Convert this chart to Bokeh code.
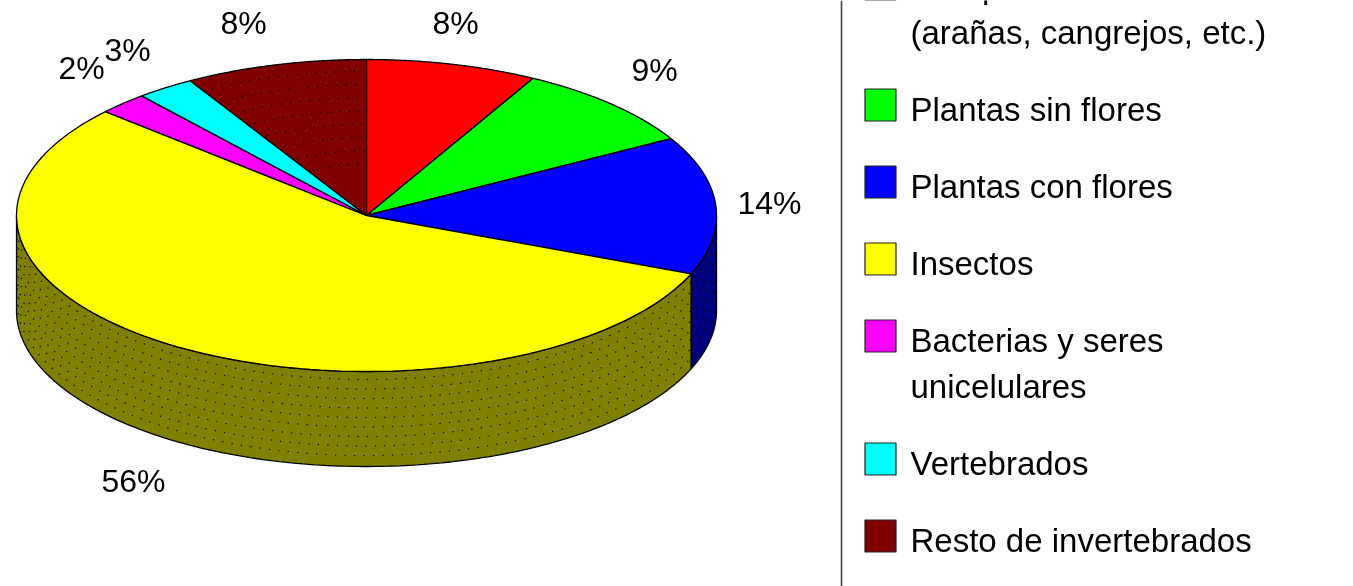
import numpy as np
from bokeh.plotting import figure
from bokeh.models import Range1d
from bokeh.core.properties import value
from bokeh.embed import file_html
from bokeh.resources import INLINE

# ---- data
categories = ["Artrópodos no insectos\n(arañas, cangrejos, etc.)", "Plantas sin flores",
              "Plantas con flores", "Insectos", "Bacterias y seres\nunicelulares",
              "Vertebrados", "Resto de invertebrados"]
values = [7.9, 8.9, 14.3, 55.5, 2.3, 2.7, 8.4]
labels = ["8%", "9%", "14%", "56%", "2%", "3%", "8%"]
colors = ["#ff0000", "#00ff00", "#0000ff", "#ffff00", "#ff00ff", "#00ffff", "#800000"]
side_colors = ["#800000", "#008000", "#000080", "#808000", "#800080", "#008080", "#400000"]

# ---- layout (page pixels, y downwards)
W, H = 1353, 586
CX, CY, RX, RY, DEPTH = 366.0, 215.0, 350.0, 156.0, 95.0
LABEL_X = [455, 654, 769, 133, 81, 127, 243]
LABEL_Y = [22, 69, 202, 480, 67, 49, 22]
SW_X0, SW_X1, TXT_X = 864.5, 895.5, 910
SWATCH_TOPS = [-32.4, 88.5, 165.5, 242.5, 319.5, 442.5, 519.5]
TEXT_Y = [-14, 120 - 11, 197 - 11, 274 - 11, 351 - 11, 474 - 11, 551 - 11]
FONT = "Liberation Sans"

p = figure(width=W, height=H, output_backend="svg", toolbar_location=None,
           x_range=Range1d(0, W), y_range=Range1d(H, 0), min_border=0,
           outline_line_color=None, background_fill_color="white",
           styles={"position": "fixed", "left": "0", "top": "0"})
p.axis.visible = False
p.grid.visible = False


def ex(t):
    return CX + RX * np.sin(t)


def ey(t):
    return CY - RY * np.cos(t)


edges = np.cumsum([0] + values) / float(sum(values)) * 2 * np.pi


def dots(xs, ys):
    p.scatter(xs, ys, marker="circle", size=1.5, fill_color="black", line_color=None)


# side wall (front half only: angle from 90 to 270 degrees)
for i in range(len(values)):
    a, b = max(edges[i], np.pi / 2), min(edges[i + 1], 3 * np.pi / 2)
    if b <= a:
        continue
    t = np.linspace(a, b, 160)
    xs = np.r_[ex(t), ex(t[::-1])]
    ys = np.r_[ey(t), ey(t[::-1]) + DEPTH]
    p.patch(xs, ys, fill_color=side_colors[i], line_color="black", line_width=1.3)
    # stipple
    dx, dy = [], []
    for k, d in enumerate(np.arange(8, DEPTH - 3, 9.5)):
        tt = a + 0.006 + (k % 3) * 0.009
        while tt < b - 0.006:
            local = np.hypot(RX * np.cos(tt), RY * np.sin(tt))
            dx.append(ex(tt))
            dy.append(ey(tt) + d)
            tt += 9.5 / max(local, 40)
    dots(dx, dy)

# top face
for i in range(len(values)):
    t = np.linspace(edges[i], edges[i + 1], 120)
    xs = np.r_[CX, ex(t)]
    ys = np.r_[CY, ey(t)]
    p.patch(xs, ys, fill_color=colors[i], line_color="black", line_width=1.3)

# stipple of the last slice
a, b = edges[-2], edges[-1]
dx, dy = [], []
for k, f in enumerate(np.arange(0.33, 0.98, 0.085)):
    tt = a + 0.02 + (k % 3) * 0.012
    while tt < b - 0.012:
        local = np.hypot(RX * np.cos(tt), RY * np.sin(tt)) * f
        dx.append(CX + f * RX * np.sin(tt))
        dy.append(CY - f * RY * np.cos(tt))
        tt += 9.5 / max(local, 30)
dots(dx, dy)

# percent labels
p.text(LABEL_X, LABEL_Y, text=labels, text_font=value(FONT), text_font_size=value("32px"),
       text_color="black", text_align="center", text_baseline="alphabetic")

# legend panel rule
p.segment([841], [0], [841], [H], line_color="#404040", line_width=1.6)

# legend rows
for cat, col, top, ty in zip(categories, colors, SWATCH_TOPS, TEXT_Y):
    p.quad(left=[SW_X0], right=[SW_X1], top=[top], bottom=[top + 32],
           fill_color=col, line_color="#202020", line_width=1.2)
    for n, line in enumerate(cat.split("\n")):
        p.text([TXT_X], [ty + n * 46], text=[line], text_font=value(FONT),
               text_font_size=value("33px"), text_color="black",
               text_align="left", text_baseline="alphabetic")

open("out.html", "w").write(file_html(p, INLINE))
